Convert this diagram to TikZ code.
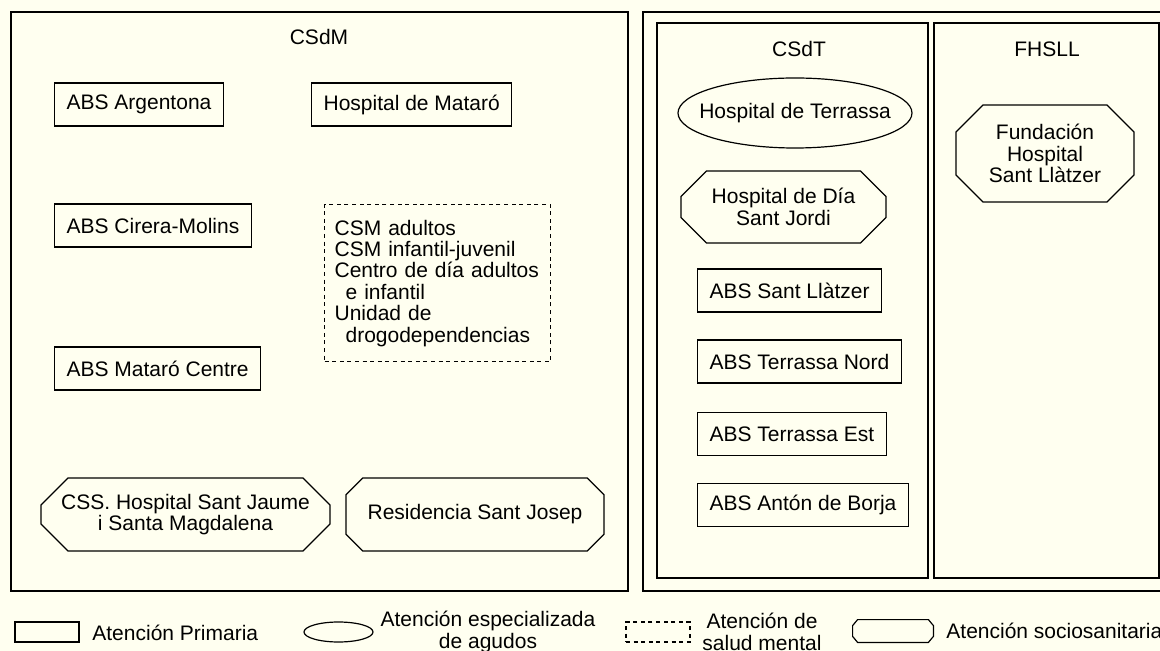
\documentclass[tikz,border=0pt]{standalone}
\usepackage{fontspec}
\setmainfont{Liberation Sans}
\usetikzlibrary{shapes.geometric,shapes.misc}
\definecolor{paper}{RGB}{255,255,240}

\begin{document}
\begin{tikzpicture}[x=0.5pt,y=-0.5pt,
  font=\fontsize{10.5}{10.7}\selectfont,
  prim/.style={draw,rectangle,line width=0.6pt,inner xsep=6pt,minimum height=21.5pt},
  agudos/.style={draw,ellipse,line width=0.6pt,inner sep=0pt},
  mental/.style={draw,rectangle,line width=0.6pt,dash pattern=on 2pt off 1.8pt},
  socio/.style={draw,chamfered rectangle,chamfered rectangle xsep=10pt,
    line width=0.6pt,inner sep=0pt,align=center},
  group/.style={draw,line width=0.6pt}]

% The page
\fill[paper] (0,0) rectangle (1160,651);
\useasboundingbox (0,0) rectangle (1160,651);
\clip (0,0) rectangle (1160,651);

% The groups
\draw[group] (11,12) rectangle (628,591);
\draw[group] (643,12) rectangle (1174,591);
\draw[group] (657,23) rectangle (928,578);
\draw[group] (934,23) rectangle (1159,578);
\node (csdm) at (319,37) {CSdM};
\node (csdt) at (799,49) {CSdT};
\node (fhsll) at (1047,49) {FHSLL};

% The CSdM centres
\node[prim] (argentona) at (139,104.5) {ABS Argentona};
\node[prim,anchor=west] (mataro) at (311,104.5) {Hospital de Mataró};
\node[prim,anchor=west] (cirera) at (54,225.5) {ABS Cirera-Molins};
\node[prim,anchor=west] (centre) at (54,368.5) {ABS Mataró Centre};
\node[mental,anchor=north west,text width=103pt,inner xsep=5pt,
  minimum height=78.5pt,align=left] (csm) at (324,204)
  {CSM adultos\\CSM infantil-juvenil\\Centro de día adultos\\
   \hspace*{5.5pt}e infantil\\Unidad de\\\hspace*{5.5pt}drogodependencias};
\node[socio,minimum width=144.5pt,minimum height=36.5pt] (santjaume) at (185.5,514.5)
  {CSS. Hospital Sant Jaume\\i Santa Magdalena};
\node[socio,minimum width=129pt,minimum height=36.5pt] (josep) at (475,514.5)
  {Residencia Sant Josep};

% The CSdT centres
\node[agudos,minimum width=117pt,minimum height=35pt] (terrassa) at (795,113)
  {\makebox[0pt]{Hospital de Terrassa}};
\node[socio,minimum width=102.5pt,minimum height=36pt] (jordi) at (783.5,207)
  {Hospital de Día\\Sant Jordi};
\node[prim,anchor=west] (llatzer) at (697,290.5) {ABS Sant Llàtzer};
\node[prim,anchor=west] (nord) at (697,361.5) {ABS Terrassa Nord};
\node[prim,anchor=west] (est) at (697,434) {ABS Terrassa Est};
\node[prim,anchor=west] (borja) at (697,505) {ABS Antón de Borja};

% The FHSLL centre
\node[socio,minimum width=89pt,minimum height=48.5pt] (fundacion) at (1045,153.5)
  {Fundación\\Hospital\\Sant Llàtzer};

% The key
\node[prim,minimum width=32pt,minimum height=10pt,inner sep=0pt] (keyprim) at (47,632) {};
\node[anchor=west,inner sep=0pt] (txtprim) at (92,633) {Atención Primaria};
\node[agudos,minimum width=34.5pt,minimum height=10pt] (keyagudos) at (338.5,632) {};
\node[align=center] (txtagudos) at (488,632) {Atención especializada\\de agudos};
\node[mental,minimum width=32pt,minimum height=10pt,inner sep=0pt] (keymental) at (658,632) {};
\node[align=center] (txtmental) at (762,632) {Atención de\\salud mental};
\node[minimum width=40pt,minimum height=11pt,inner sep=0pt] (keysocio) at (893,631) {};
\draw[line width=0.6pt] ([xshift=2.5pt]keysocio.north west) -- ([xshift=-2.5pt]keysocio.north east)
  -- ([yshift=-3pt]keysocio.north east) -- ([yshift=3pt]keysocio.south east)
  -- ([xshift=-2.5pt]keysocio.south east) -- ([xshift=2.5pt]keysocio.south west)
  -- ([yshift=3pt]keysocio.south west) -- ([yshift=-3pt]keysocio.north west) -- cycle;
\node[anchor=west,inner sep=0pt] (txtsocio) at (946,631) {Atención sociosanitaria};

\end{tikzpicture}
\end{document}
